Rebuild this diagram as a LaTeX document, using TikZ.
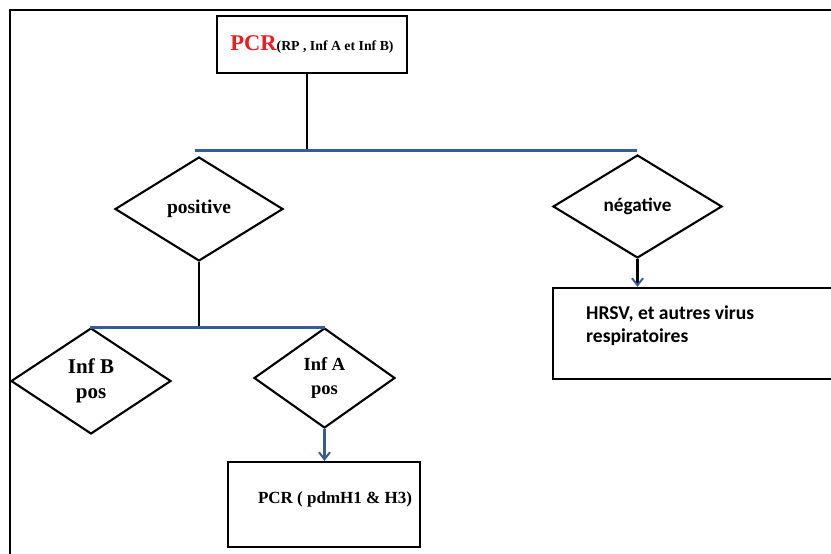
\documentclass[tikz,border=0pt]{standalone}
\usepackage{fontspec}
\setmainfont{Liberation Serif}
\newfontfamily\calib{Carlito}
\usetikzlibrary{shapes.geometric,arrows.meta}
\definecolor{lineblue}{RGB}{52,92,150}
\definecolor{pcrred}{RGB}{238,28,28}
\begin{document}
\begin{tikzpicture}[x=1pt,y=-1pt,
  box/.style={draw, rectangle, line width=2.3pt, inner sep=0pt},
  dia/.style={draw, diamond, line width=2.1pt, inner sep=0pt, align=center},
  bus/.style={draw=lineblue, line width=3pt},
  stem/.style={draw, line width=2.2pt},
  arrblue/.style={draw=lineblue, line width=2.2pt, -{Straight Barb[length=7pt,width=11pt,line width=2pt]}},
  arrmix/.style={draw, line width=2.2pt, -{Straight Barb[length=7pt,width=11pt,line width=2pt,color=lineblue]}},
  frame/.style={draw, line width=2.3pt}]
\clip (0,0) rectangle (831,554);
\fill[white] (0,0) rectangle (831,554);
% frame
\coordinate (fa) at (10,554);
\coordinate (fb) at (10,10);
\coordinate (fc) at (835,10);
\draw[frame] (fa) -- (fb) -- (fc);
% nodes
\node[box, minimum width=190pt, minimum height=57pt] (top) at (312,44.5)
  {\bfseries{\color{pcrred}\fontsize{22.5}{24}\selectfont PCR}{\fontsize{13.8}{15}\selectfont(RP , Inf A et Inf B)}};
\node[dia, minimum width=168pt, minimum height=104pt, font=\bfseries\fontsize{19.5}{22}\selectfont] (pos) at (199,209) {positive};
\node[dia, minimum width=169pt, minimum height=103pt, font=\calib\bfseries\fontsize{19.2}{22}\selectfont] (neg) at (637.5,206.5) {négative};
\node[dia, minimum width=160pt, minimum height=106pt, font=\bfseries\fontsize{21}{25}\selectfont] (infb) at (91,381) {Inf B\\pos};
\node[dia, minimum width=141pt, minimum height=100pt, font=\bfseries\fontsize{18.5}{24}\selectfont] (infa) at (324.5,378) {\rule{0pt}{6pt}Inf A\\pos};
\node[box, minimum width=192pt, minimum height=85pt] (pcrbox) at (324,504.5) {};
\node[font=\bfseries\fontsize{17}{19}\selectfont, anchor=base, inner sep=0pt] (pcrtxt) at (335,503) {PCR ( pdmH1 \& H3)};
\node[box, minimum width=290pt, minimum height=91pt] (hrsv) at (698,333.5) {};
\node[font=\calib\bfseries\fontsize{19.6}{23}\selectfont, anchor=north west, align=left, inner sep=0pt] (hrsvtxt) at (586,306) {HRSV, et autres virus\\respiratoires};
% connectors
\coordinate (j1) at (307,150);
\coordinate (b1) at (195,150);
\coordinate (b2) at (637,150);
\draw[stem] (top.south -| j1) -- (j1);
\draw[bus] (b1) -- (b2);
\coordinate (j2) at (199,327);
\coordinate (b3) at (90,327);
\coordinate (b4) at (325,327);
\draw[stem] (pos.south) -- (j2);
\draw[bus] (b3) -- (b4);
\draw[arrblue] (infa.south) -- (pcrbox.north -| infa.south);
\draw[arrmix] (neg.south) -- (hrsv.north -| neg.south);
\end{tikzpicture}
\end{document}
